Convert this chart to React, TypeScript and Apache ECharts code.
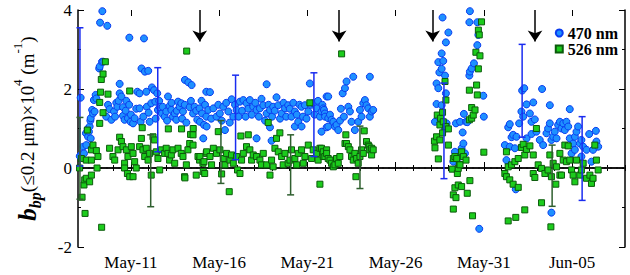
import React, { useEffect, useRef } from "react";
import * as echarts from "echarts";

const FONT = "'Liberation Serif', 'Times New Roman', serif";

// x values are day-of-May (Jun 5 = 36)
const xMin = 8;
const xMax = 39;
const majorDays = [11, 16, 21, 26, 31, 36];
const majorLabels = ["May-11", "May-16", "May-21", "May-26", "May-31", "Jun-05"];
const minorDays = Array.from({ length: xMax - xMin + 1 }, (_, i) => xMin + i);

const yMin = -2;
const yMax = 4;
const yInterval = 2;
const zeroLine: [number, number][] = [[xMin, 0], [xMax, 0]];

const seriesNames = ["470 nm", "526 nm"];

const blue470: [number, number][] = [
  [8.1,0.30],[8.15,1.78],[8.2,0.35],[8.3,0.54],[8.34,0.37],[8.45,0.88],[8.47,0.58],[8.55,0.99],[8.57,0.79],[8.62,0.92],[8.66,1.05],[8.7,1.2],[8.72,0.75],[8.72,1.26],[8.8,1.47],[8.85,1.38],[8.9,1.72],[8.94,1.43],[9.0,1.85],[9.04,1.76],[9.2,2.52],[9.23,2.57],[9.25,3.68],[9.36,2.69],[9.38,3.97],[9.43,2.69],[9.66,3.6],
  [9.6,1.3],[9.7,1.6],[9.79,1.49],[9.89,1.22],[10.04,1.43],[10.1,1.3],[10.17,1.65],[10.23,1.55],[10.3,1.7],[10.36,2.13],[10.36,1.89],[10.46,1.81],[10.55,1.54],[10.55,1.32],[10.64,1.22],[10.7,1.45],[10.74,1.70],[10.83,1.26],[10.9,1.6],[10.91,3.3],[10.98,1.17],[11.0,1.35],[11.12,1.13],[11.21,1.26],[11.3,1.5],[11.36,1.93],[11.49,1.89],[11.49,1.51],[11.55,1.17],[11.6,2.52],[11.7,1.3],[11.74,3.28],[11.79,2.44],[11.87,1.93],[11.9,1.55],[11.98,2.46],[12.0,1.4],[12.06,1.17],[12.15,1.64],[12.19,2.04],[12.31,1.97],[12.38,1.68],[12.4,1.25],[12.49,1.89],[12.53,1.47],[12.6,1.7],[12.63,1.54],[12.76,1.38],[12.8,1.55],[12.91,1.30],[13.0,1.43],[13.05,1.2],[13.1,1.81],[13.19,1.57],[13.29,1.47],[13.3,1.65],[13.38,1.30],[13.48,1.38],[13.57,1.22],[13.6,1.45],[13.67,1.68],[13.76,1.55],[13.85,1.64],[13.9,1.25],[13.95,1.43],[14.05,1.6],[14.06,2.23],[14.14,1.15],[14.25,2.17],[14.33,1.54],[14.4,1.7],[14.44,2.1],[14.52,1.38],[14.61,1.55],[14.7,1.45],[14.76,1.22],[14.89,1.51],[14.91,1.17],[15.0,1.7],[15.03,1.38],[15.1,0.75],[15.14,1.09],[15.2,1.6],[15.27,1.30],[15.27,1.93],[15.29,1.05],[15.38,1.47],[15.48,1.92],[15.55,1.25],[15.67,1.51],[15.85,1.30],[15.95,1.6],[16.04,1.38],[16.15,1.2],[16.23,1.55],[16.33,0.96],[16.4,1.65],[16.52,1.43],[16.6,1.15],[16.71,1.74],[16.8,1.30],[16.9,1.6],[16.99,1.47],[17.1,1.3],[17.18,1.68],[17.3,1.45],[17.37,1.72],[17.5,1.3],[17.55,1.64],[17.65,1.5],[17.74,1.72],[17.85,1.35],[17.93,1.55],[18.05,1.65],[18.12,1.47],[18.12,0.75],[18.25,1.3],[18.31,1.51],[18.4,1.75],[18.5,1.59],[18.6,1.2],[18.69,1.38],[18.69,2.12],[18.8,1.6],[18.88,1.47],[18.88,1.03],[18.97,0.69],[19.0,1.3],[19.06,1.55],[19.15,1.45],[19.25,1.79],[19.35,1.59],[19.45,1.25],[19.54,1.38],[19.65,1.65],[19.73,1.51],[19.8,1.3],[19.91,1.59],[20.0,1.5],[20.1,1.30],[20.2,1.65],[20.29,1.43],[20.29,1.05],[20.4,1.35],[20.48,1.17],[20.55,1.6],[20.67,1.55],[20.67,1.05],[20.75,1.3],[20.86,1.59],[20.95,1.25],[21.05,1.43],[21.14,2.14],[21.2,1.6],[21.33,1.64],[21.4,1.35],[21.52,1.51],[21.6,1.7],[21.71,1.30],[21.8,0.92],[21.8,1.43],[21.85,1.6],[21.9,1.51],[21.94,1.47],[21.99,1.38],[22.0,1.3],[22.09,1.81],[22.09,1.03],[22.18,1.05],[22.18,1.26],[22.18,1.81],[22.28,1.35],[22.37,1.22],[22.47,1.17],[22.56,1.05],[22.65,1.09],[22.75,0.96],[22.85,1.2],[22.9,1.5],[23.0,1.89],[23.07,1.30],[23.13,2.02],[23.22,2.19],[23.32,1.55],[23.41,1.43],[23.5,1.17],[23.6,2.31],[23.69,0.96],[23.88,1.17],[23.98,1.47],[24.07,1.30],[24.17,1.64],[24.26,1.72],[24.35,1.59],[24.45,1.51],[24.54,1.30],[24.54,2.31],[24.64,1.43],[24.73,1.47],
  [28.23,1.17],[28.32,2.14],[28.32,1.62],[28.42,2.68],[28.42,2.02],[28.42,1.30],[28.48,2.42],[28.61,2.90],[28.61,2.51],[28.61,1.59],[28.66,3.81],[28.7,2.71],[28.8,2.34],[28.8,1.00],[28.85,3.18],[28.85,1.89],[28.89,1.13],[28.99,3.43],[29.27,0.16],[29.36,0.41],[29.42,1.13],[29.46,0.24],[29.65,1.17],[29.65,0.29],[29.74,0.50],[29.8,0.90],[29.84,0.62],[29.87,1.37],[29.93,0.37],[29.99,1.17],[30.06,1.16],[30.18,3.69],[30.18,2.34],[30.21,2.44],[30.21,3.97],[30.31,2.52],[30.44,2.65],[30.63,3.69],[30.63,3.11],[30.69,3.37],[30.74,-1.54],[30.97,1.83],[31.0,1.30],
  [32.19,0.58],[32.28,0.20],[32.38,1.03],[32.47,1.11],[32.47,0.54],[32.57,0.78],[32.66,0.84],[32.76,0.50],[32.81,-0.54],[32.85,0.79],[33.0,1.13],[33.13,1.43],[33.17,1.96],[33.23,1.30],[33.29,2.02],[33.42,1.61],[33.42,0.75],[33.61,1.38],[33.7,1.17],[33.7,0.86],[33.8,1.66],[33.89,1.23],[33.98,0.92],[34.17,0.71],[34.3,2.0],[34.36,0.58],[34.55,0.88],[34.64,1.0],[34.74,1.59],[34.74,1.13],[34.83,0.71],[34.83,-1.13],[34.93,0.79],[35.02,0.92],[35.12,0.75],[35.21,1.09],[35.31,1.17],[35.4,1.0],[35.5,1.13],[35.59,0.96],[35.68,1.17],[35.78,1.05],[35.87,1.49],[35.87,0.75],[35.97,0.37],[36.06,0.62],[36.16,0.79],[36.16,0.46],[36.25,0.92],[36.34,1.05],[36.44,0.62],[36.53,0.29],[36.53,0.71],[36.63,0.54],[36.82,0.46],[36.97,0.86],[37.1,0.16],[37.19,0.46],[37.35,0.94],[37.38,0.67],[37.48,0.54]
];

const green526: [number, number][] = [
  [8.09,0.0],[8.19,0.24],[8.23,-0.74],[8.34,-0.43],[8.38,-0.30],[8.4,-1.15],[8.47,0.20],[8.47,-0.26],[8.53,0.96],[8.66,-0.35],[8.76,0.46],[8.76,0.2],[8.76,-0.18],[8.85,0.58],[9.04,0.44],[9.08,0.0],[9.13,0.29],[9.23,1.66],[9.23,1.13],[9.28,1.92],[9.32,2.24],[9.34,-1.50],[9.42,2.38],[9.42,1.40],[9.55,2.69],[9.7,1.87],[9.79,0.5],[9.98,0.29],[10.08,0.2],[10.27,0.46],[10.36,0.78],[10.46,0.67],[10.55,0.54],[10.64,0.12],[10.64,0.0],[10.74,0.46],[10.8,-0.14],[10.83,0.29],[10.93,1.95],[10.93,-0.22],[11.02,0.54],[11.12,0.37],[11.12,-0.22],[11.21,0.16],[11.3,0.0],[11.49,0.54],[11.59,0.75],[11.64,1.02],[11.68,0.46],[11.78,0.29],[11.87,0.5],[11.97,0.2],[12.06,0.37],[12.15,-0.18],[12.25,0.79],[12.34,0.71],[12.44,0.41],[12.53,0.24],[12.63,-0.05],[12.72,0.46],[12.91,0.37],[13.0,0.5],[13.1,0.37],[13.12,0.99],[13.19,0.2],[13.29,0.33],[13.38,0.46],[13.48,0.12],[13.67,0.5],[13.85,0.37],[13.87,0.99],[13.95,0.29],[14.04,-0.22],[14.06,-0.25],[14.14,0.08],[14.16,2.96],[14.23,0.46],[14.33,0.62],[14.38,0.85],[14.52,0.58],[14.52,0.84],[14.53,1.0],[14.7,-0.18],[14.8,0.29],[14.89,0.2],
  [14.91,0.29],[15.08,0.12],[15.1,-0.09],[15.14,0.16],[15.18,-0.14],[15.27,0.37],[15.29,0.41],[15.48,0.29],[15.57,0.08],[15.67,0.5],[15.85,0.37],[15.95,0.92],[16.04,0.46],[16.14,-0.15],[16.23,0.24],[16.33,0.08],[16.42,0.37],[16.57,-0.6],[16.61,0.2],[16.7,0.33],[16.8,0.12],[16.99,0.29],[17.04,-0.05],[17.18,-0.14],[17.23,0.81],[17.27,0.2],[17.37,0.37],[17.55,0.54],[17.65,0.84],[17.74,0.46],[17.84,0.2],[17.93,0.33],[18.12,0.29],[18.31,0.2],[18.4,0.08],[18.5,0.37],[18.69,0.08],[18.78,1.15],[18.88,-0.18],[18.97,0.2],[19.06,0.03],[19.16,0.5],[19.25,0.75],[19.35,0.41],[19.44,0.89],[19.54,0.29],[19.63,0.08],[19.73,0.37],[19.91,0.12],[20.01,0.2],[20.1,0.46],[20.29,0.24],[20.39,0.08],[20.48,0.37],[20.67,0.46],[20.77,0.12],[20.86,0.29],[21.05,0.58],[21.14,1.65],[21.24,0.24],[21.33,0.46],[21.52,0.37],[21.61,0.2],[21.71,0.5],[21.71,-0.41],[21.8,0.5],[21.9,0.29],[21.9,0.41],[21.99,0.29],[22.09,0.46],[22.09,0.37],[22.18,0.24],[22.28,0.2],[22.37,0.12],[22.47,0.03],[22.56,0.08],[22.65,0.24],[22.75,0.12],[22.84,0.29],[22.94,2.89],[23.13,0.62],[23.18,0.84],[23.22,0.62],[23.32,0.54],[23.41,0.46],[23.5,0.29],[23.6,0.2],[23.69,0.37],[23.75,-0.22],[23.79,0.24],[23.88,0.12],[23.98,0.29],[24.07,0.46],[24.17,0.37],[24.22,0.94],[24.35,0.67],[24.45,0.58],[24.5,0.54],[24.54,0.46],[24.64,0.5],[24.64,0.33],[24.73,0.46],
  [28.2,0.68],[28.23,0.51],[28.32,0.79],[28.36,1.34],[28.42,0.23],[28.51,1.09],[28.51,0.71],[28.55,1.26],[28.66,1.41],[28.66,0.89],[28.7,1.17],[28.8,2.19],[28.85,1.72],[28.85,1.05],[28.99,0.99],[28.99,0.58],[29.21,-0.03],[29.27,0.24],[29.27,-0.68],[29.27,-1.04],[29.36,0.29],[29.36,-0.5],[29.42,-0.75],[29.46,0.24],[29.5,-0.14],[29.55,-0.01],[29.55,-0.43],[29.61,0.09],[29.65,0.08],[29.74,0.41],[29.74,-0.47],[29.84,0.29],[29.99,0.2],[30.06,-0.64],[30.18,1.97],[30.18,1.22],[30.21,-0.32],[30.31,1.53],[30.31,1.26],[30.36,-1.21],[30.4,1.34],[30.5,1.47],[30.55,2.93],[30.59,2.10],[30.63,1.85],[30.69,3.49],[30.69,2.51],[30.74,3.37],[30.78,2.84],[30.87,3.70],[31.0,0.40],
  [32.19,-0.14],[32.28,0.41],[32.28,-0.22],[32.38,0.03],[32.38,-1.34],[32.47,-0.30],[32.57,0.08],[32.66,-0.41],[32.76,0.16],[32.81,-1.25],[32.95,0.24],[32.95,-0.49],[33.13,0.52],[33.23,0.60],[33.32,0.33],[33.32,-1.06],[33.42,0.47],[33.61,0.56],[33.8,0.33],[33.8,-0.14],[33.89,-0.24],[33.98,1.0],[34.08,0.08],[34.27,-0.01],[34.27,-0.88],[34.46,-0.14],[34.64,-0.05],[34.74,0.33],[34.8,-1.49],[34.83,-0.22],[34.93,0.12],[35.08,-0.41],[35.12,0.03],[35.31,0.37],[35.31,-0.18],[35.4,-0.18],[35.5,0.2],[35.59,0.58],[35.68,0.16],[35.78,0.56],[35.87,0.2],[35.97,-0.05],[36.06,-0.18],[36.16,-0.35],[36.25,0.2],[36.44,-0.18],[36.53,-0.05],[36.63,0.12],[36.82,-0.26],[37.01,-0.18],[37.1,-0.39],[37.19,-0.26],[37.29,0.58],[37.38,0.2],[37.48,-0.05]
];

// [day, low, high]
const blueErr: [number, number, number][] = [
  [8.11, 0.05, 3.55],
  [12.52, 0.41, 2.54],
  [16.93, 0.21, 2.35],
  [21.37, 0.29, 2.41],
  [28.74, -0.27, 2.15],
  [33.17, 0.78, 3.13],
  [36.57, -0.82, 1.3],
];
const greenErr: [number, number, number][] = [
  [8.11, -0.79, 1.28],
  [12.12, -0.98, 0.84],
  [16.1, -0.39, 1.2],
  [20.05, -0.68, 0.84],
  [23.98, -0.52, 1.06],
  [34.87, -0.97, 0.58],
];

const arrowDays = [14.9, 22.8, 28.1, 33.9];
const arrowFrom = 4;
const arrowTo = 3.2;

const BLUE_FILL = "#1e90ff";
const BLUE_EDGE = "#0a3cf0";
const GREEN_FILL = "#1ccc1c";
const GREEN_EDGE = "#0b5a0b";
const BLUE_BAR = "#1a2cf0";
const GREEN_BAR = "#2f5f2f";

function errRender(color: string) {
  return (params: any, api: any) => {
    const x = api.value(0);
    const lo = api.value(1);
    const hi = api.value(2);
    const a = api.coord([x, lo]);
    const b = api.coord([x, hi]);
    const w = 3.5;
    const st = { stroke: color, lineWidth: 1.5 };
    return {
      type: "group",
      children: [
        { type: "line", shape: { x1: a[0], y1: a[1], x2: b[0], y2: b[1] }, style: st },
        { type: "line", shape: { x1: a[0] - w, y1: a[1], x2: a[0] + w, y2: a[1] }, style: st },
        { type: "line", shape: { x1: b[0] - w, y1: b[1], x2: b[0] + w, y2: b[1] }, style: st },
      ],
    };
  };
}

export default function App() {
  const ref = useRef<HTMLDivElement>(null);
  useEffect(() => {
    if (!ref.current) return;
    const chart = echarts.init(ref.current, null, { renderer: "svg" });
    const gridRect = { left: 78, right: 5, top: 10, bottom: 28 };
    const axisLine = { show: true, lineStyle: { color: "#000", width: 1.5 } };
    const option: any = {
      animation: false,
      backgroundColor: "#fff",
      grid: [
        { ...gridRect, outerBoundsMode: "none" },
        { ...gridRect, outerBoundsMode: "none" },
      ],
      legend: {
        data: [
          { name: seriesNames[0], icon: "circle" },
          { name: seriesNames[1], icon: "rect" },
        ],
        orient: "vertical",
        right: 7,
        top: 20,
        itemWidth: 7,
        itemHeight: 7,
        itemGap: 0,
        textStyle: { fontFamily: FONT, fontWeight: "bold", fontSize: 16, color: "#000", lineHeight: 15 },
      },
      xAxis: [
        {
          type: "value", gridIndex: 0, position: "bottom", min: xMin, max: xMax,
          axisLine, splitLine: { show: false },
          axisTick: { show: true, inside: true, length: 3, customValues: minorDays, lineStyle: { color: "#000", width: 1 } },
          axisLabel: {
            show: true, customValues: majorDays, margin: 7,
            fontFamily: FONT, fontSize: 17, color: "#000",
            formatter: (v: number) => { const i = majorDays.indexOf(Math.round(v)); return i >= 0 ? majorLabels[i] : ""; },
          },
        },
        {
          type: "value", gridIndex: 0, position: "top", min: xMin, max: xMax,
          axisLine, splitLine: { show: false },
          axisTick: { show: true, inside: true, length: 3, customValues: minorDays, lineStyle: { color: "#000", width: 1 } },
          axisLabel: { show: false },
        },
        {
          type: "value", gridIndex: 1, position: "bottom", min: xMin, max: xMax,
          axisLine: { show: false }, splitLine: { show: false },
          axisTick: { show: true, inside: true, length: 6, customValues: majorDays, lineStyle: { color: "#000", width: 1 } },
          axisLabel: { show: false },
        },
        {
          type: "value", gridIndex: 1, position: "top", min: xMin, max: xMax,
          axisLine: { show: false }, splitLine: { show: false },
          axisTick: { show: true, inside: true, length: 6, customValues: majorDays, lineStyle: { color: "#000", width: 1 } },
          axisLabel: { show: false },
        },
      ],
      yAxis: [
        {
          type: "value", gridIndex: 0, position: "left", min: yMin, max: yMax, interval: yInterval,
          axisLine, splitLine: { show: false },
          axisTick: { show: true, inside: true, length: 6, lineStyle: { color: "#000", width: 1 } },
          minorTick: { show: true, splitNumber: 2, length: 3, lineStyle: { color: "#000", width: 1 } },
          axisLabel: { margin: 6, fontFamily: FONT, fontSize: 17, color: "#000" },
          name: "{b|b}{sub|bp}{t|(≤0.2 μm)×10}{sup|4}{t| (m}{sup|-1}{t|)}",
          nameLocation: "middle",
          nameRotate: 90,
          nameGap: 35,
          nameTextStyle: {
            fontFamily: FONT, fontSize: 19, color: "#000", lineHeight: 32,
            rich: {
              b: { fontFamily: FONT, fontSize: 25, fontWeight: "bold", fontStyle: "italic", color: "#000", lineHeight: 32, verticalAlign: "middle" },
              sub: { fontFamily: FONT, fontSize: 16, fontWeight: "bold", fontStyle: "italic", color: "#000", lineHeight: 17, verticalAlign: "bottom" },
              t: { fontFamily: FONT, fontSize: 19, color: "#000", lineHeight: 32, verticalAlign: "middle" },
              sup: { fontFamily: FONT, fontSize: 13, color: "#000", lineHeight: 15, verticalAlign: "top" },
            },
          },
        },
        {
          type: "value", gridIndex: 0, position: "right", min: yMin, max: yMax, interval: yInterval,
          axisLine, splitLine: { show: false },
          axisTick: { show: true, inside: true, length: 6, lineStyle: { color: "#000", width: 1 } },
          minorTick: { show: true, splitNumber: 2, length: 3, lineStyle: { color: "#000", width: 1 } },
          axisLabel: { show: false },
        },
        {
          type: "value", gridIndex: 1, min: yMin, max: yMax, interval: yInterval, show: false,
        },
      ],
      series: [
        {
          type: "line", xAxisIndex: 0, yAxisIndex: 0, data: zeroLine, symbol: "none",
          silent: true, z: 1,
          lineStyle: { color: "#222", width: 1, type: "dashed", dashOffset: 0 },
        },
        {
          name: seriesNames[0], type: "scatter", xAxisIndex: 0, yAxisIndex: 0,
          symbol: "circle", symbolSize: 7, data: blue470,
          itemStyle: { color: BLUE_FILL, borderColor: BLUE_EDGE, borderWidth: 1, opacity: 1 },
          markLine: {
            silent: true, symbol: ["none", "arrow"], symbolSize: 11,
            label: { show: false },
            lineStyle: { color: "#000", width: 1.5, type: "solid" },
            itemStyle: { color: "#000" },
            data: arrowDays.map((d) => [
              { coord: [d, arrowFrom], symbol: "none" },
              { coord: [d, arrowTo], symbol: "arrow", symbolSize: 11, itemStyle: { color: "#000" } },
            ]),
          },
        },
        {
          name: seriesNames[1], type: "scatter", xAxisIndex: 0, yAxisIndex: 0,
          symbol: "rect", symbolSize: 6, data: green526,
          itemStyle: { color: GREEN_FILL, borderColor: GREEN_EDGE, borderWidth: 1, opacity: 1 },
        },
        {
          type: "custom", xAxisIndex: 0, yAxisIndex: 0, renderItem: errRender(BLUE_BAR),
          data: blueErr, encode: { x: 0, y: [1, 2] }, z: 3, silent: true,
        },
        {
          type: "custom", xAxisIndex: 0, yAxisIndex: 0, renderItem: errRender(GREEN_BAR),
          data: greenErr, encode: { x: 0, y: [1, 2] }, z: 3, silent: true,
        },
      ],
    };
    chart.setOption(option);
    return () => chart.dispose();
  }, []);
  return (
    <div
      ref={ref}
      style={{ position: "fixed", left: 0, top: 0, width: 630, height: 275, background: "#fff" }}
    />
  );
}
